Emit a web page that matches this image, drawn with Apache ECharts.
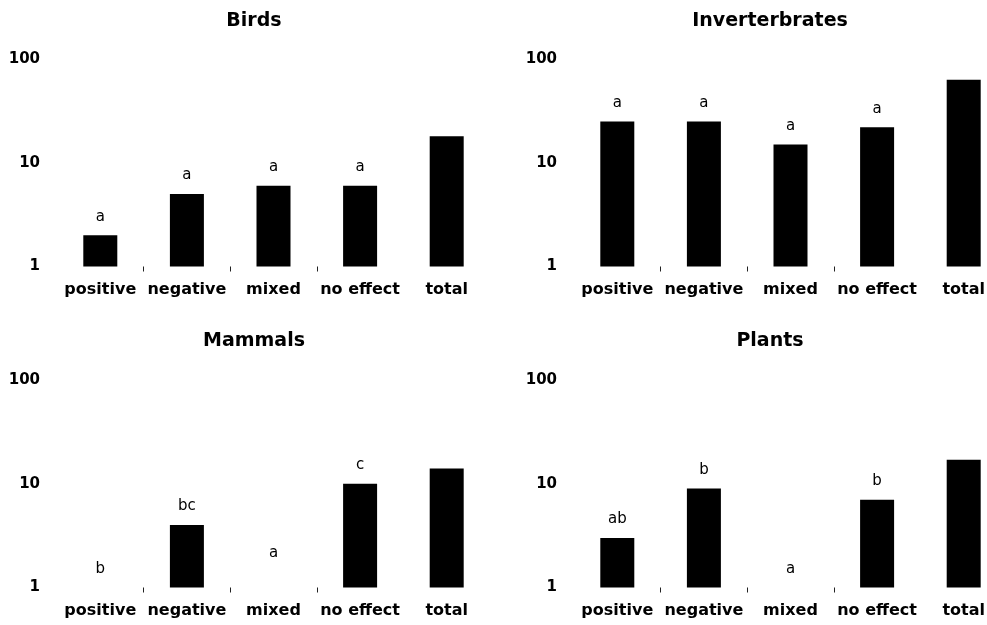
<!DOCTYPE html>
<html>
<head>
<meta charset="utf-8">
<script src="https://cdn.jsdelivr.net/npm/echarts@6/dist/echarts.min.js"></script>
<style>
  html, body { margin: 0; padding: 0; background: #fff; }
  #chart { width: 987px; height: 625px; }
</style>
</head>
<body>
<div id="chart"></div>
<script>
// categories shared by all four panels
const categories = ['positive', 'negative', 'mixed', 'no effect', 'total'];

// number of studies per effect (0 = no studies, drawn as an empty bar)
const birdsCounts = [2, 5, 6, 6, 18];
const invertCounts = [25, 25, 15, 22, 63];
const mammalCounts = [0, 4, 0, 10, 14];
const plantCounts = [3, 9, 0, 7, 17];

// significance letters above the bars
const birdsLetters = ['a', 'a', 'a', 'a', ''];
const invertLetters = ['a', 'a', 'a', 'a', ''];
const mammalLetters = ['b', 'bc', 'a', 'c', ''];
const plantLetters = ['ab', 'b', 'a', 'b', ''];

// y axis (log) range
const yMin = 1;
const yMax = 100;

const panels = [
  { title: 'Birds', counts: birdsCounts, letters: birdsLetters },
  { title: 'Inverterbrates', counts: invertCounts, letters: invertLetters },
  { title: 'Mammals', counts: mammalCounts, letters: mammalLetters },
  { title: 'Plants', counts: plantCounts, letters: plantLetters }
];

const font = 'DejaVu Sans';

// panel placement
const gridLeft = [57, 574, 57, 574];
const gridTop = [59, 59, 380, 380];
const titlePos = [[254, 21], [770, 21], [254, 341], [770, 341]];

// small tick marks only between the four effect categories
const tickSpots = categories.slice(1, 4).map((_, k) => k + 0.5);

const chart = echarts.init(document.getElementById('chart'));

const grids = [], xAxes = [], tickAxes = [], yAxes = [], series = [], graphics = [];

panels.forEach((p, i) => {
  grids.push({
    left: gridLeft[i], top: gridTop[i], width: 433, height: 207.5,
    outerBoundsMode: 'none'
  });

  xAxes.push({
    type: 'category',
    gridIndex: i,
    data: categories,
    axisLine: { show: false },
    axisTick: { show: false },
    axisLabel: {
      interval: 0,
      margin: 15,
      color: '#000',
      fontFamily: font,
      fontWeight: 'bold',
      fontSize: 16
    }
  });

  // helper axis that only draws the tick marks at category boundaries
  tickAxes.push({
    type: 'value',
    gridIndex: i,
    position: 'bottom',
    min: -0.5,
    max: categories.length - 0.5,
    axisLine: { show: false },
    splitLine: { show: false },
    axisLabel: { show: false },
    axisTick: {
      show: true,
      length: 5,
      customValues: tickSpots,
      lineStyle: { color: '#222', width: 1 }
    }
  });

  yAxes.push({
    type: 'log',
    logBase: 10,
    gridIndex: i,
    min: yMin,
    max: yMax,
    axisLine: { show: false },
    axisTick: { show: false },
    splitLine: { show: false },
    axisLabel: {
      margin: 17,
      color: '#000',
      fontFamily: font,
      fontWeight: 'bold',
      fontSize: 15
    }
  });

  series.push({
    type: 'bar',
    xAxisIndex: i,
    yAxisIndex: i,
    barWidth: 34,
    itemStyle: { color: '#000' },
    data: p.counts.map((v, k) => {
      // empty categories sit on the axis minimum so only the letter shows
      const item = { value: v > 0 ? v : yMin };
      if (p.title === 'Mammals' && k === 2) {
        item.label = { offset: [0, -16] };
      }
      return item;
    }),
    label: {
      show: true,
      position: 'top',
      distance: 11,
      color: '#000',
      fontFamily: font,
      fontSize: 15,
      formatter: (d) => p.letters[d.dataIndex]
    }
  });

  graphics.push({
    type: 'text',
    x: titlePos[i][0],
    y: titlePos[i][1],
    style: {
      text: p.title,
      font: 'bold 19px "DejaVu Sans"',
      fill: '#000',
      textAlign: 'center',
      textVerticalAlign: 'middle'
    }
  });
});

chart.setOption({
  animation: false,
  backgroundColor: '#fff',
  grid: grids,
  xAxis: xAxes.concat(tickAxes),
  yAxis: yAxes,
  series: series,
  graphic: graphics
});
</script>
</body>
</html>
